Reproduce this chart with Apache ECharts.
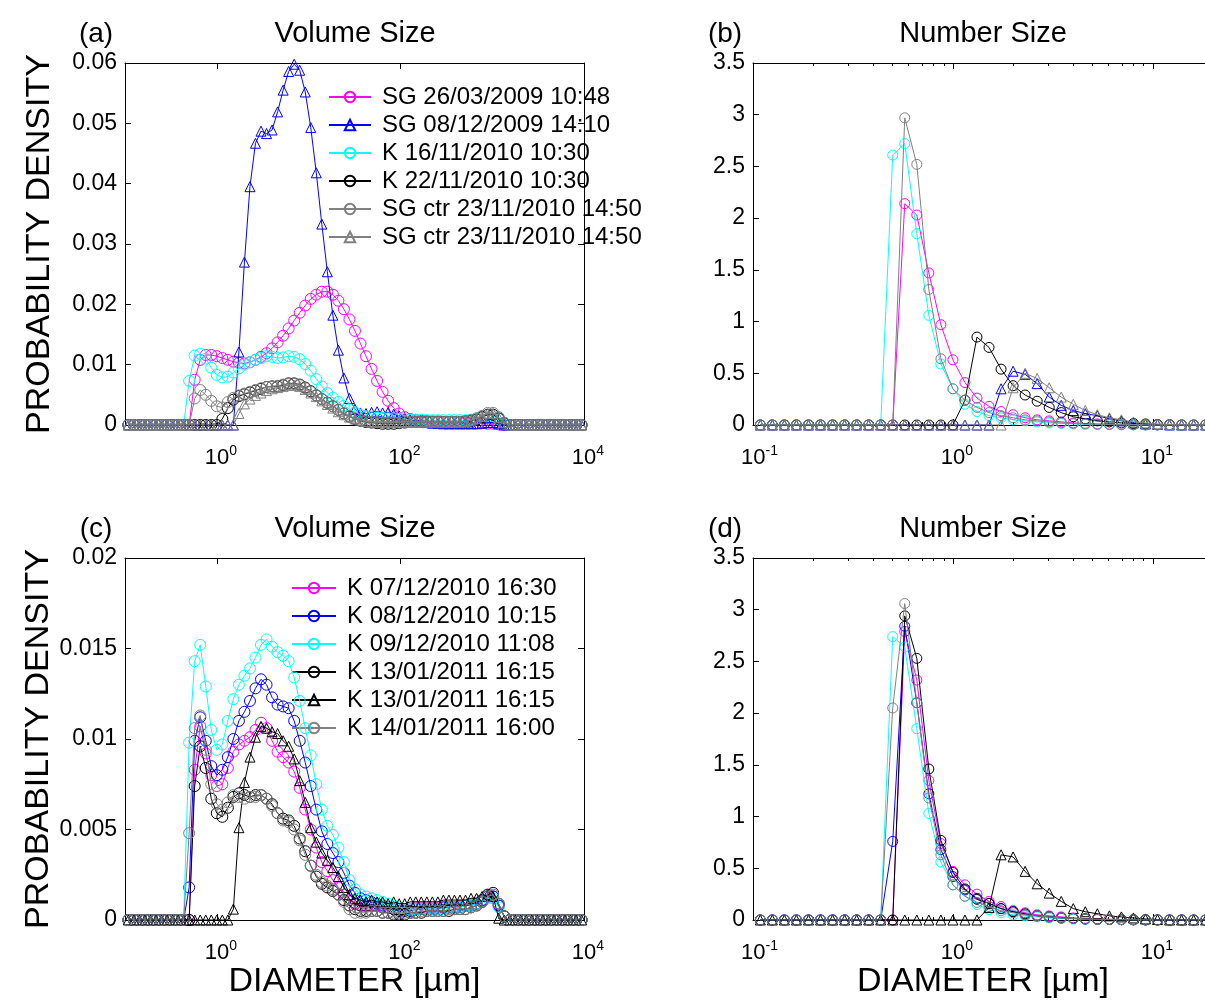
<!DOCTYPE html>
<html><head><meta charset="utf-8">
<script src="https://cdn.jsdelivr.net/npm/echarts@6/dist/echarts.min.js"></script>
<style>html,body{margin:0;padding:0;background:#fff}#c{width:1205px;height:1001px}</style>
</head><body><div id="c"></div>
<script>
// ---------- DATA ----------
// bin diameters [um]
const diameters = [0.1088,0.125,0.1436,0.1649,0.1895,0.2176,0.25,0.2872,0.3299,0.3789,0.4353,0.5,0.5743,0.6598,0.7579,0.8706,1,1.1487,1.3195,1.5157,1.7411,2,2.2974,2.639,3.0314,3.4822,4,4.5948,5.278,6.0629,6.9644,8,9.1896,10.556,12.126,13.929,16,18.379,21.112,24.251,27.858,32,36.758,42.224,48.503,55.715,64,73.517,84.449,97.006,111.43,128,147.03,168.9,194.01,222.86,256,294.07,337.8,388.02,445.72,512,588.13,675.59,776.05,891.44,1024,1176.3,1351.2,1552.1,1782.9,2048,2352.5,2702.4,3104.2,3565.8,4096,4705,5404.7,6208.4,7131.6,8192,9410.1];

const namesTop = ['SG 26/03/2009 10:48','SG 08/12/2009 14:10','K 16/11/2010 10:30','K 22/11/2010 10:30','SG ctr 23/11/2010 14:50','SG ctr 23/11/2010 14:50 '];
const namesBottom = ['K 07/12/2010 16:30','K 08/12/2010 10:15','K 09/12/2010 11:08','K 13/01/2011 16:15','K 13/01/2011 16:15 ','K 14/01/2011 16:00'];

// (a) volume size
const volA_SG260309 = [0,0,0,0,0,0,0,0,0,0,0,0,.0075,.0108,.0116,.0116,.0114,.0111,.0108,.0105,.0103,.0102,.0104,.0108,.0113,.0119,.0127,.0137,.0148,.0160,.0173,.0186,.0198,.0209,.0216,.0221,.0221,.0216,.0206,.0192,.0175,.0156,.0135,.0114,.0093,.0073,.0055,.0040,.0028,.0019,.0013,.0010,.0008,.0007,.0007,.0006,.0006,.0005,.0005,.0005,.0004,.0004,.0004,.0003,.0003,.0002,.0002,.0001,0,0,0,0,0,0,0,0,0,0,0,0,0,0,0];
const volA_SG081209 = [0,0,0,0,0,0,0,0,0,0,0,0,0,0,0,0,0,0,0,0,.0121,.0270,.0395,.0467,.0487,.0483,.0489,.0519,.0555,.0586,.0598,.0588,.0552,.0493,.0418,.0333,.0254,.0182,.0124,.0078,.0044,.0026,.0020,.0019,.0021,.0022,.0020,.0021,.0018,.0015,.0012,.0009,.0007,.0005,.0004,.0003,.0003,.0002,.0002,.0002,.0002,.0002,.0002,.0002,.0003,.0004,.0004,.0002,0,0,0,0,0,0,0,0,0,0,0,0,0,0,0];
const volA_K161110 = [0,0,0,0,0,0,0,0,0,0,0,.0073,.0115,.0118,.0110,.0095,.0083,.0079,.0080,.0087,.0094,.0100,.0104,.0108,.0111,.0114,.0113,.0111,.0112,.0114,.0113,.0109,.0101,.0090,.0076,.0064,.0053,.0045,.0038,.0032,.0026,.0021,.0017,.0014,.0013,.0012,.0012,.0011,.0011,.0010,.0010,.0009,.0009,.0009,.0008,.0008,.0008,.0008,.0008,.0008,.0008,.0008,.0009,.0011,.0014,.0016,.0015,.0010,.0003,0,0,0,0,0,0,0,0,0,0,0,0,0,0];
const volA_K221110 = [0,0,0,0,0,0,0,0,0,0,0,0,0,0,0,0,0,.0010,.0028,.0042,.0048,.0051,.0054,.0057,.0060,.0063,.0064,.0064,.0066,.0069,.0069,.0067,.0062,.0056,.0049,.0043,.0037,.0031,.0025,.0019,.0014,.0010,.0007,.0005,.0004,.0003,.0002,.0002,.0002,.0003,.0004,.0005,.0005,.0005,.0005,.0005,.0005,.0005,.0005,.0005,.0005,.0006,.0007,.0009,.0013,.0017,.0017,.0011,.0003,0,0,0,0,0,0,0,0,0,0,0,0,0,0];
const volA_SGctrCirc = [0,0,0,0,0,0,0,0,0,0,0,0,.0044,.0058,.0050,.0040,.0031,.0029,.0038,.0045,.0049,.0052,.0055,.0058,.0061,.0063,.0064,.0065,.0067,.0068,.0068,.0066,.0061,.0055,.0049,.0043,.0037,.0031,.0025,.0019,.0015,.0011,.0008,.0006,.0005,.0005,.0004,.0004,.0004,.0004,.0005,.0005,.0005,.0005,.0005,.0005,.0005,.0005,.0005,.0005,.0005,.0006,.0008,.0011,.0015,.0020,.0020,.0013,.0004,0,0,0,0,0,0,0,0,0,0,0,0,0,0];
const volA_SGctrTri = [0,0,0,0,0,0,0,0,0,0,0,0,0,0,0,0,0,0,0,0,.0019,.0035,.0043,.0049,.0053,.0057,.0060,.0062,.0064,.0066,.0066,.0064,.0059,.0053,.0047,.0040,.0034,.0028,.0022,.0017,.0013,.0010,.0008,.0006,.0005,.0005,.0005,.0005,.0005,.0005,.0005,.0005,.0005,.0005,.0005,.0005,.0005,.0005,.0005,.0005,.0005,.0006,.0008,.0011,.0014,.0019,.0019,.0012,.0004,0,0,0,0,0,0,0,0,0,0,0,0,0,0];

// (b) number size
const numB_SG260309 = [0,0,0,0,0,0,0,0,0,0,0,0,2.14,2.03,1.47,0.97,0.63,0.41,0.26,0.18,0.13,0.10,0.07,0.05,0.04,0.03,0.02,0.015,0.01,0.008,0.005,0.003,0.002,0.001,0,0,0,0];
const numB_SG081209 = [0,0,0,0,0,0,0,0,0,0,0,0,0,0,0,0,0,0,0,0,0.35,0.52,0.49,0.40,0.27,0.19,0.14,0.11,0.09,0.06,0.04,0.02,0.01,0.005,0,0,0,0];
const numB_K161110 = [0,0,0,0,0,0,0,0,0,0,0,2.61,2.72,1.85,1.06,0.59,0.35,0.20,0.13,0.09,0.07,0.05,0.04,0.03,0.02,0.015,0.01,0.007,0.005,0.003,0.002,0.001,0,0,0,0,0,0];
const numB_K221110 = [0,0,0,0,0,0,0,0,0,0,0,0,0,0,0,0,0,0.24,0.85,0.75,0.54,0.38,0.29,0.23,0.17,0.12,0.08,0.06,0.04,0.03,0.02,0.015,0.01,0.005,0.003,0,0,0];
const numB_SGctrCirc = [0,0,0,0,0,0,0,0,0,0,0,0,2.97,2.52,1.31,0.64,0.35,0.24,0.17,0.12,0.09,0.07,0.05,0.04,0.03,0.02,0.015,0.01,0.007,0.005,0.003,0.002,0,0,0,0,0,0];
const numB_SGctrTri = [0,0,0,0,0,0,0,0,0,0,0,0,0,0,0,0,0,0,0,0,0,0.36,0.50,0.45,0.36,0.27,0.20,0.14,0.10,0.07,0.05,0.03,0.02,0.01,0.005,0,0,0];

// (c) volume size
const volC_K071210 = [0,0,0,0,0,0,0,0,0,0,0,0,.0083,.0107,.0092,.0080,.0074,.0075,.0084,.0093,.0097,.0099,.0101,.0105,.0109,.0106,.0099,.0093,.0090,.0087,.0082,.0073,.0061,.0050,.0040,.0032,.0027,.0022,.0018,.0014,.0011,.0009,.0008,.0008,.0008,.0008,.0007,.0007,.0006,.0006,.0006,.0006,.0007,.0007,.0007,.0007,.0007,.0007,.0007,.0007,.0008,.0008,.0008,.0009,.0011,.0013,.0013,.0008,.0002,0,0,0,0,0,0,0,0,0,0,0,0,0,0];
const volC_K081210 = [0,0,0,0,0,0,0,0,0,0,0,.0018,.0099,.0112,.0099,.0085,.0080,.0083,.0090,.0100,.0110,.0115,.0121,.0128,.0133,.0130,.0123,.0119,.0118,.0117,.0110,.0099,.0087,.0074,.0061,.0049,.0042,.0037,.0032,.0026,.0019,.0015,.0012,.0011,.0010,.0009,.0008,.0007,.0006,.0005,.0005,.0005,.0006,.0006,.0006,.0006,.0006,.0007,.0007,.0007,.0007,.0008,.0008,.0009,.0011,.0013,.0013,.0008,.0002,0,0,0,0,0,0,0,0,0,0,0,0,0,0];
const volC_K091210 = [0,0,0,0,0,0,0,0,0,0,0,.0098,.0143,.0152,.0129,.0105,.0094,.0097,.0110,.0122,.0130,.0135,.0139,.0145,.0152,.0155,.0151,.0148,.0146,.0143,.0134,.0121,.0106,.0091,.0075,.0061,.0052,.0047,.0040,.0032,.0022,.0017,.0014,.0013,.0012,.0011,.0010,.0009,.0008,.0007,.0006,.0006,.0006,.0006,.0006,.0006,.0006,.0006,.0007,.0007,.0007,.0008,.0008,.0009,.0010,.0012,.0012,.0007,.0002,0,0,0,0,0,0,0,0,0,0,0,0,0,0];
const volC_K130111circ = [0,0,0,0,0,0,0,0,0,0,0,0,.0074,.0096,.0084,.0067,.0059,.0057,.0062,.0068,.0070,.0069,.0068,.0069,.0069,.0067,.0064,.0059,.0056,.0055,.0052,.0045,.0038,.0030,.0024,.0020,.0018,.0016,.0014,.0011,.0008,.0006,.0005,.0005,.0005,.0005,.0004,.0004,.0003,.0003,.0003,.0004,.0004,.0004,.0005,.0005,.0005,.0005,.0005,.0006,.0006,.0006,.0007,.0008,.0010,.0014,.0015,.0009,.0002,0,0,0,0,0,0,0,0,0,0,0,0,0,0];
const volC_K130111tri = [0,0,0,0,0,0,0,0,0,0,0,0,0,0,0,0,0,0,0,.0006,.0051,.0076,.0090,.0101,.0107,.0106,.0104,.0103,.0099,.0096,.0089,.0077,.0065,.0051,.0043,.0037,.0033,.0029,.0024,.0018,.0014,.0012,.0011,.0010,.0011,.0010,.0010,.0009,.0010,.0009,.0009,.0010,.0010,.0010,.0010,.0010,.0010,.0011,.0011,.0011,.0011,.0011,.0012,.0012,.0013,.0014,.0013,.0001,0,0,0,0,0,0,0,0,0,0,0,0,0,0,0];
const volC_K140111 = [0,0,0,0,0,0,0,0,0,0,0,.0048,.0106,.0113,.0094,.0075,.0064,.0061,.0065,.0069,.0068,.0067,.0068,.0068,.0069,.0067,.0063,.0059,.0055,.0054,.0050,.0044,.0036,.0030,.0025,.0021,.0019,.0017,.0014,.0010,.0006,.0004,.0004,.0004,.0005,.0005,.0004,.0004,.0004,.0004,.0004,.0004,.0004,.0005,.0005,.0005,.0005,.0005,.0006,.0006,.0006,.0006,.0007,.0008,.0010,.0013,.0014,.0009,.0002,0,0,0,0,0,0,0,0,0,0,0,0,0,0];

// (d) number size
const numD_K071210 = [0,0,0,0,0,0,0,0,0,0,0,0,2.79,2.32,1.35,0.74,0.47,0.34,0.25,0.18,0.13,0.09,0.07,0.05,0.04,0.03,0.02,0.015,0.01,0.007,0.005,0.003,0.002,0.001,0,0,0,0];
const numD_K081210 = [0,0,0,0,0,0,0,0,0,0,0,0.76,2.84,2.10,1.22,0.68,0.42,0.29,0.21,0.16,0.11,0.08,0.05,0.04,0.03,0.02,0.015,0.01,0.007,0.005,0.003,0.002,0.001,0,0,0,0,0];
const numD_K091210 = [0,0,0,0,0,0,0,0,0,0,0,2.74,2.64,1.85,1.03,0.56,0.34,0.23,0.15,0.10,0.07,0.05,0.04,0.03,0.02,0.015,0.01,0.007,0.005,0.003,0.002,0.001,0,0,0,0,0,0];
const numD_K130111circ = [0,0,0,0,0,0,0,0,0,0,0,0,2.94,2.53,1.46,0.77,0.46,0.30,0.20,0.16,0.11,0.08,0.06,0.04,0.03,0.02,0.015,0.01,0.007,0.005,0.003,0.002,0.001,0,0,0,0,0];
const numD_K130111tri = [0,0,0,0,0,0,0,0,0,0,0,0,0,0,0,0,0,0,0,0.12,0.63,0.61,0.47,0.35,0.26,0.18,0.11,0.08,0.06,0.04,0.03,0.02,0.01,0.005,0,0,0,0];
const numD_K140111 = [0,0,0,0,0,0,0,0,0,0,0,2.05,3.06,2.10,1.18,0.63,0.34,0.23,0.17,0.13,0.09,0.07,0.05,0.04,0.03,0.02,0.015,0.01,0.007,0.005,0.003,0.002,0.001,0,0,0,0,0];

// axis ranges / ticks
const volXRange = [0.1, 10000];
const numXRange = [0.1, 20];
const volXLabelExps = [0, 2, 4];
const numXLabelExps = [-1, 0, 1];
const yMaxA = 0.06, yStepA = 0.01;
const yMaxC = 0.02, yStepC = 0.005;
const yMaxNum = 3.5, yStepNum = 0.5;

// ---------- STYLE ----------
const FONT = '"Liberation Sans", Arial, Helvetica, sans-serif';
const colorsTop = ['#ff00ff','#0000ff','#00ffff','#000000','#808080','#808080'];
const symbolsTop = ['circle','triangle','circle','circle','circle','triangle'];
const colorsBottom = ['#ff00ff','#0000ff','#00ffff','#000000','#000000','#808080'];
const symbolsBottom = ['circle','circle','circle','circle','triangle','circle'];

const panels = [
  {grid:{left:125, top:63, width:459, height:362}, xr:volXRange, exps:volXLabelExps, logBase:100, xint:null, minor:false, ymax:yMaxA, ystep:yStepA, ylabel:true, xname:false, circ:11,
   names:namesTop, colors:colorsTop, symbols:symbolsTop, xs:diameters,
   ys:[volA_SG260309, volA_SG081209, volA_K161110, volA_K221110, volA_SGctrCirc, volA_SGctrTri]},
  {grid:{left:753, top:63, width:460, height:362}, xr:numXRange, exps:numXLabelExps, logBase:10, xint:1, minor:true, ymax:yMaxNum, ystep:yStepNum, ylabel:false, xname:false, circ:10,
   names:namesTop, colors:colorsTop, symbols:symbolsTop, xs:diameters,
   ys:[numB_SG260309, numB_SG081209, numB_K161110, numB_K221110, numB_SGctrCirc, numB_SGctrTri]},
  {grid:{left:125, top:558, width:459, height:362}, xr:volXRange, exps:volXLabelExps, logBase:100, xint:null, minor:false, ymax:yMaxC, ystep:yStepC, ylabel:true, xname:true, circ:11,
   names:namesBottom, colors:colorsBottom, symbols:symbolsBottom, xs:diameters,
   ys:[volC_K071210, volC_K081210, volC_K091210, volC_K130111circ, volC_K130111tri, volC_K140111]},
  {grid:{left:753, top:558, width:460, height:362}, xr:numXRange, exps:numXLabelExps, logBase:10, xint:1, minor:true, ymax:yMaxNum, ystep:yStepNum, ylabel:false, xname:true, circ:10,
   names:namesBottom, colors:colorsBottom, symbols:symbolsBottom, xs:diameters,
   ys:[numD_K071210, numD_K081210, numD_K091210, numD_K130111circ, numD_K130111tri, numD_K140111]}
];

function makeFormatter(exps){
  return function(value){
    const L = Math.log10(value);
    const e = Math.round(L);
    if (Math.abs(L - e) > 1e-6 || exps.indexOf(e) < 0) return '';
    return (e < 0 ? '{bm|10}' : '{b|10}') + '{s|' + (e < 0 ? '-' + (-e) : e) + '}';
  };
}
const richX = {
  b:{fontSize:22, fontFamily:FONT, color:'#000', lineHeight:22, verticalAlign:'bottom', padding:[0,0,0,8]},
  bm:{fontSize:22, fontFamily:FONT, color:'#000', lineHeight:22, verticalAlign:'bottom', padding:[0,0,0,13]},
  s:{fontSize:14, fontFamily:FONT, color:'#000', lineHeight:14, verticalAlign:'bottom', padding:[0,0,11,0]}
};
const axisLineStyle = {show:true, onZero:false, lineStyle:{color:'#000', width:1}};
const tickStyle = {show:true, inside:true, length:6, lineStyle:{color:'#000', width:1}};
const minorStyle = {show:true, splitNumber:9, length:3, lineStyle:{color:'#000', width:1}};

const grid = [], xAxis = [], yAxis = [], series = [];
panels.forEach((p, i) => {
  grid.push(Object.assign({containLabel:false, outerBoundsMode:'none'}, p.grid));
});
function xAxisOpt(p, i, pos){
  const o = {type:'log', logBase:p.logBase, gridIndex:i, position:pos, min:p.xr[0], max:p.xr[1],
    axisLine:axisLineStyle, axisTick:tickStyle, splitLine:{show:false}};
  if (p.xint != null) o.interval = p.xint;
  if (p.minor) o.minorTick = minorStyle;
  if (pos === 'bottom') {
    o.axisLabel = {show:true, margin:22, formatter:makeFormatter(p.exps), rich:richX, showMinLabel:true, showMaxLabel:true};
    o.name = p.xname ? 'DIAMETER [\u00b5m]' : '';
    o.nameLocation = 'middle'; o.nameGap = 44;
    o.nameTextStyle = {fontSize:34, color:'#000', fontFamily:FONT};
  } else {
    o.axisLabel = {show:false};
  }
  return o;
}
panels.forEach((p, i) => xAxis.push(xAxisOpt(p, i, 'bottom')));
panels.forEach((p, i) => xAxis.push(xAxisOpt(p, i, 'top')));
panels.forEach((p, i) => {
  yAxis.push({type:'value', gridIndex:i, position:'left', min:0, max:p.ymax, interval:p.ystep,
    axisLine:axisLineStyle, axisTick:tickStyle, splitLine:{show:false},
    axisLabel:{fontSize:23, color:'#000', margin:8, fontFamily:FONT},
    name: p.ylabel ? 'PROBABILITY DENSITY' : '', nameLocation:'middle', nameGap:68,
    nameTextStyle:{fontSize:34, color:'#000', fontFamily:FONT}});
});
panels.forEach((p, i) => {
  yAxis.push({type:'value', gridIndex:i, position:'right', min:0, max:p.ymax, interval:p.ystep,
    axisLine:axisLineStyle, axisTick:tickStyle, splitLine:{show:false}, axisLabel:{show:false}});
});
panels.forEach((p, i) => {
  p.ys.forEach((vals, j) => {
    const data = [];
    for (let k = 0; k < vals.length && k < p.xs.length; k++) data.push([p.xs[k], vals[k]]);
    series.push({
      type:'line', name:p.names[j], xAxisIndex:i, yAxisIndex:i, data:data,
      symbol:p.symbols[j], symbolSize: p.symbols[j] === 'triangle' ? 10 : p.circ, showSymbol:true, showAllSymbol:true,
      lineStyle:{color:p.colors[j], width:1},
      itemStyle:{color:'rgba(255,255,255,0)', borderColor:p.colors[j], borderWidth:1},
      emphasis:{disabled:true}, silent:true, clip:true, z:2 + j
    });
  });
});

const legendBase = {orient:'vertical', itemWidth:42, itemHeight:13, itemGap:4, padding:0, selectedMode:false,
  textStyle:{fontSize:24, fontFamily:FONT, color:'#000', lineHeight:24, padding:[0,0,0,6]}};
const legend = [
  Object.assign({}, legendBase, {data:namesTop, left:328, top:85}),
  Object.assign({}, legendBase, {data:namesBottom, left:291, top:576, itemWidth:44})
];

function txt(x, y, s, size){
  return {type:'text', x:x, y:y, silent:true,
    style:{text:s, fontSize:size, fontFamily:FONT, fill:'#000', align:'center', verticalAlign:'middle'}};
}
const graphic = [
  txt(96, 34, '(a)', 28), txt(355, 34, 'Volume Size', 29),
  txt(725, 34, '(b)', 28), txt(983, 34, 'Number Size', 29),
  txt(96, 529, '(c)', 28), txt(355, 529, 'Volume Size', 29),
  txt(725, 529, '(d)', 28), txt(983, 529, 'Number Size', 29)
];

const chart = echarts.init(document.getElementById('c'), null, {renderer:'canvas'});
chart.setOption({
  backgroundColor:'#fff', animation:false,
  textStyle:{fontFamily:FONT},
  grid:grid, xAxis:xAxis, yAxis:yAxis, series:series, legend:legend, graphic:graphic
});
</script>
</body></html>
